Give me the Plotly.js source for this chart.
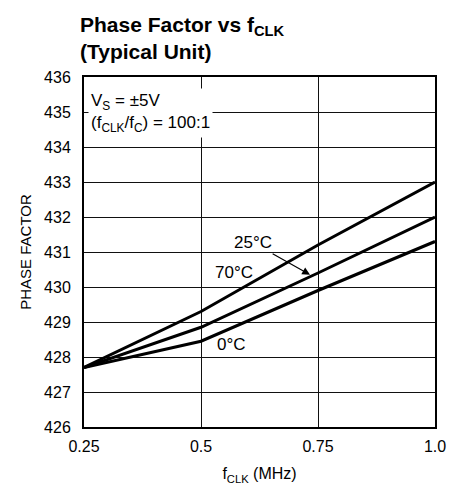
<!DOCTYPE html>
<html>
<head>
<meta charset="utf-8">
<script src="https://cdn.plot.ly/plotly-3.0.1.min.js"></script>
<style>html,body{margin:0;padding:0;background:#fff;}#chart{width:464px;height:492px;}</style>
</head>
<body>
<div id="chart"></div>
<script>
const freqMHz = [0.25, 0.5, 0.75, 1.0];
const topCurve = [427.7, 429.3, 431.2, 433.0];
const midCurve = [427.7, 428.85, 430.4, 432.0];
const lowCurve = [427.7, 428.45, 429.9, 431.3];
const xTickVals = [0.25, 0.5, 0.75, 1.0];
const xTickText = ['0.25', '0.5', '0.75', '1.0'];
const yTickVals = [426, 427, 428, 429, 430, 431, 432, 433, 434, 435, 436];

const FONT = '"Liberation Sans", Arial, Helvetica, sans-serif';
const lineStyle = {color: '#000', width: 3};

const traces = [
  {x: freqMHz, y: topCurve, mode: 'lines', line: lineStyle, hoverinfo: 'skip'},
  {x: freqMHz, y: midCurve, mode: 'lines', line: lineStyle, hoverinfo: 'skip'},
  {x: freqMHz, y: lowCurve, mode: 'lines', line: lineStyle, hoverinfo: 'skip'}
];

const layout = {
  width: 464, height: 492,
  margin: {l: 84, r: 29, t: 77, b: 65},
  paper_bgcolor: '#fff', plot_bgcolor: '#fff',
  showlegend: false,
  font: {family: FONT, color: '#000', size: 16},
  xaxis: {
    range: [0.25, 1.0], tickvals: xTickVals, ticktext: xTickText,
    showgrid: true, gridcolor: '#111', gridwidth: 1,
    showline: true, linecolor: '#000', linewidth: 2, mirror: true,
    ticks: '', zeroline: false, tickfont: {size: 16}, ticklabelstandoff: 4,
    title: {text: 'f<sub>CLK</sub> (MHz)', font: {size: 16}, standoff: 14}
  },
  yaxis: {
    range: [426, 436], tickvals: yTickVals,
    showgrid: true, gridcolor: '#111', gridwidth: 1,
    showline: true, linecolor: '#000', linewidth: 2, mirror: true,
    ticks: '', zeroline: false, tickfont: {size: 16}, ticklabelstandoff: 8,
    title: {text: 'PHASE FACTOR', font: {size: 15}, standoff: 9}
  },
  annotations: [
    {xref: 'paper', yref: 'paper', x: -0.017, y: 1 + 12/350, xanchor: 'left', yanchor: 'bottom', align: 'left',
     text: '<b>Phase Factor vs f<sub>CLK</sub><br>(Typical Unit)</b>', showarrow: false,
     font: {size: 21, color: '#000'}},
    {xref: 'paper', yref: 'paper', x: 0.012, y: 0.968, xanchor: 'left', yanchor: 'top', align: 'left',
     text: 'V<sub>S</sub> = ±5V<br>(f<sub>CLK</sub>/f<sub>C</sub>) = 100:1', showarrow: false,
     bgcolor: '#fff', borderpad: 2, font: {size: 17}},
    {x: 0.733, y: 430.35, xref: 'x', yref: 'y', text: '25°C', showarrow: true,
     ax: -57, ay: -32, arrowhead: 2, arrowsize: 1.3, arrowwidth: 1.2, arrowcolor: '#000', font: {size: 17}},
    {x: 0.570, y: 430.42, xref: 'x', yref: 'y', text: '70°C', showarrow: false, font: {size: 17}},
    {x: 0.566, y: 428.36, xref: 'x', yref: 'y', text: '0°C', showarrow: false, font: {size: 17}}
  ]
};

Plotly.newPlot('chart', traces, layout, {displayModeBar: false, staticPlot: true});
</script>
</body>
</html>
